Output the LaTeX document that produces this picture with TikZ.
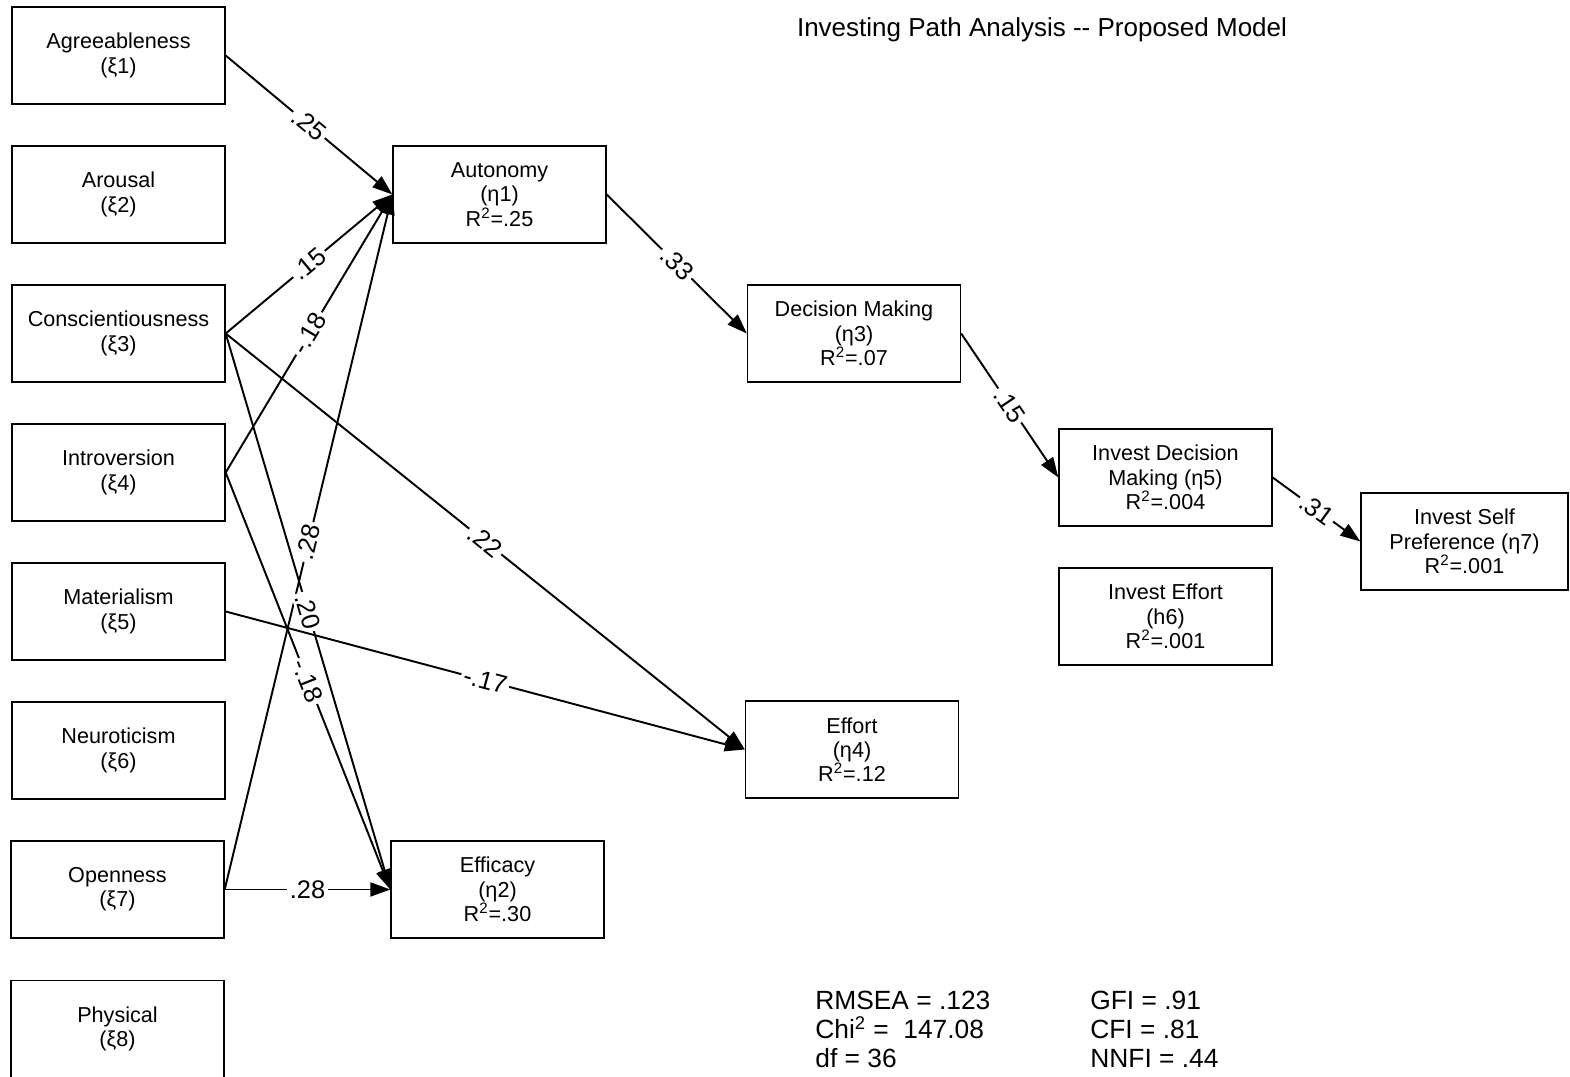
\documentclass[tikz,border=0pt]{standalone}
\usepackage{fontspec}
\setmainfont{Liberation Sans}
\usetikzlibrary{arrows.meta}
\tikzset{
  var/.style={draw,line width=0.8pt,minimum width=4.26cm,minimum height=1.94cm,inner sep=0pt,align=center,
    font=\fontsize{12.3}{13.8}\selectfont},
  path/.style={line width=1.1pt,-{Triangle[length=0.4cm,width=0.28cm]}},
  coef/.style={midway,sloped,fill=white,inner sep=1.5pt,font=\fontsize{14.5}{14.5}\selectfont},
  fit/.style={anchor=north west,inner sep=0pt,align=left,font=\fontsize{15}{16.5}\selectfont}
}

\begin{document}
\begin{tikzpicture}[x=0.02cm,y=-0.02cm]
\useasboundingbox (0,0) rectangle (1570,1077);
\node[anchor=base,inner sep=0pt,font=\fontsize{14.8}{15}\selectfont] (title) at (1042,37) {Investing Path Analysis -{}- Proposed Model};

\node[var] (agree) at (118.5,55.5) {Agreeableness\\(ξ1)};
\node[var] (arous) at (118.5,194.5) {Arousal\\(ξ2)};
\node[var] (consc) at (118.5,333.5) {Conscientiousness\\(ξ3)};
\node[var] (intro) at (118.5,472.5) {Introversion\\(ξ4)};
\node[var] (mater) at (118.5,611.5) {Materialism\\(ξ5)};
\node[var] (neuro) at (118.5,750.5) {Neuroticism\\(ξ6)};
\node[var] (open) at (117.5,889.5) {Openness\\(ξ7)};
\node[var] (phys) at (117.5,1029) {Physical\\(ξ8)};

\node[var] (auto) at (499.5,194.5) {Autonomy\\(η1)\\R\textsuperscript{2}=.25};
\node[var] (effic) at (497.5,889.5) {Efficacy\\(η2)\\R\textsuperscript{2}=.30};
\node[var] (decis) at (854,333.5) {Decision Making\\(η3)\\R\textsuperscript{2}=.07};
\node[var] (effort) at (852,749.5) {Effort\\(η4)\\R\textsuperscript{2}=.12};
\node[var] (invdm) at (1165.5,477.5) {Invest Decision\\Making (η5)\\R\textsuperscript{2}=.004};
\node[var] (inveff) at (1165.5,616.5) {Invest Effort\\(h6)\\R\textsuperscript{2}=.001};
\node[var,minimum width=4.14cm] (invsp) at (1464.5,541.5) {Invest Self\\Preference (η7)\\R\textsuperscript{2}=.001};

\draw[path] (agree.east) -- node[coef]{.25} (auto.west);
\draw[path] (consc.east) -- node[coef]{.15} (auto.west);
\draw[path] (intro.east) -- node[coef]{-.18} (auto.west);
\draw[path] (open.east) -- node[coef]{.28} (auto.west);
\draw[path] (consc.east) -- node[coef]{.22} (effort.west);
\draw[path] (consc.east) -- node[coef]{.20} (effic.west);
\draw[path] (intro.east) -- node[coef]{-.18} (effic.west);
\draw[path] (mater.east) -- node[coef]{-.17} (effort.west);
\draw[path] (open.east) -- node[coef]{.28} (effic.west);
\draw[path] (auto.east) -- node[coef]{.33} (decis.west);
\draw[path] (decis.east) -- node[coef]{.15} (invdm.west);
\draw[path] (invdm.east) -- node[coef]{.31} (invsp.west);

\node[fit] (stats) at (815,991) {RMSEA = .123\\Chi\textsuperscript{2} =\ \ 147.08\\df = 36};
\node[fit] (index) at (1090,991) {GFI = .91\\CFI = .81\\NNFI = .44};
\end{tikzpicture}
\end{document}
